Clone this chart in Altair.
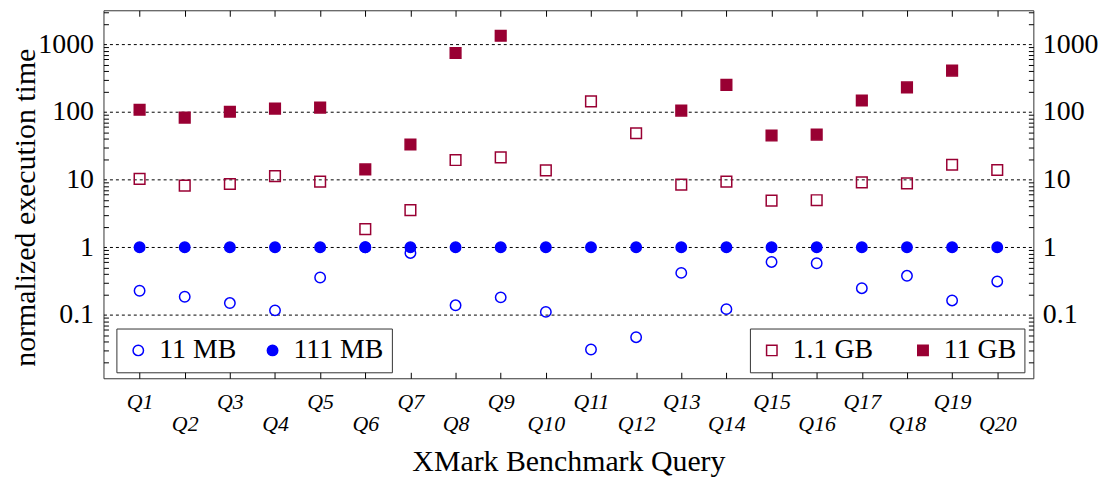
import altair as alt
import pandas as pd

# ---------------- data ----------------
query_nums = list(range(1, 21))
query_labels = ["Q1", "Q2", "Q3", "Q4", "Q5", "Q6", "Q7", "Q8", "Q9", "Q10",
                "Q11", "Q12", "Q13", "Q14", "Q15", "Q16", "Q17", "Q18", "Q19", "Q20"]

mb11 = [0.228, 0.186, 0.150, 0.117, 0.358, 1.0, 0.826, 0.139, 0.182, 0.111,
        0.0309, 0.0469, 0.419, 0.122, 0.608, 0.582, 0.249, 0.379, 0.164, 0.313]
mb111 = [1, 1, 1, 1, 1, 1, 1, 1, 1, 1, 1, 1, 1, 1, 1, 1, 1, 1, 1, 1]
gb1_1 = [10.3, 8.16, 8.63, 11.3, 9.35, 1.86, 3.54, 19.5, 21.3, 13.7,
         144, 48.6, 8.44, 9.35, 4.91, 4.97, 9.14, 8.83, 16.6, 13.9]
gb11 = [108, 82.5, 101, 112, 116, 14.2, 33.1, 746, 1340, None,
        None, None, 105, 252, 44.9, 46.4, 148, 231, 410, None]

mb_series = ["11 MB", "111 MB"]
gb_series = ["1.1 GB", "11 GB"]
y_major = [0.1, 1, 10, 100, 1000]
y_minor = [k * 10.0 ** e for e in range(-2, 4) for k in range(2, 10)]


def long(series_names, series_values):
    rows = []
    for name, vals in zip(series_names, series_values):
        for q, v in zip(query_nums, vals):
            if v is not None:
                rows.append({"q": q, "v": v, "series": name})
    return pd.DataFrame(rows)


df_mb = long(mb_series, [mb11, mb111])
df_gb = long(gb_series, [gb1_1, gb11])

# ---------------- style ----------------
FONT = "Liberation Serif"
BLUE = "#0000ff"
RED = "#990033"
X_DOMAIN = [0.2, 20.8]
Y_DOMAIN = [0.0116, 3190]

xs = alt.Scale(domain=X_DOMAIN, nice=False, zero=False)
ys = alt.Scale(type="log", domain=Y_DOMAIN, nice=False)

# layer: MB series, bottom labels + left labels + grid
x_bottom_labels = alt.Axis(
    orient="bottom", values=query_nums, labelExpr="'Q' + datum.value",
    labelFont=FONT, labelFontStyle="italic", labelFontSize=22, labelColor="black",
    labelPadding={"condition": {"test": "datum.value % 2 == 0", "value": 36}, "value": 13},
    labelOverlap=False, labelFlush=False, labelBound=False,
    ticks=False, domain=False, grid=False,
    title="XMark Benchmark Query", titleFont=FONT, titleFontSize=30,
    titleFontWeight="normal", titleColor="black",
    titleBaseline="alphabetic", titleY=93, titleX=467.5, titleAlign="center",
)
y_left_labels = alt.Axis(
    orient="left", values=y_major, format="~g",
    labelFont=FONT, labelFontSize=28, labelColor="black", labelPadding=10,
    ticks=False, domain=False,
    grid=True, gridColor="black", gridDash=[3, 3], gridWidth=1, gridOpacity=1,
    title="normalized execution time", titleFont=FONT, titleFontSize=30,
    titleFontWeight="normal", titleColor="black",
    titleAngle=270, titleBaseline="alphabetic", titleAlign="center",
    titleX=-69, titleY=198,
)

legend_common = dict(
    title=None, orient="none", direction="horizontal",
    labelFont=FONT, labelFontSize=28, labelColor="black",
    labelOffset=7, padding=8,
    strokeColor="#333", fillColor="white", cornerRadius=0,
    symbolStrokeWidth=1.5, symbolOpacity=1, symbolSize=110,
)

mb_layer = alt.Chart(df_mb).mark_point(
    filled=True, shape="circle", size=110, strokeWidth=1.5, opacity=1, fillOpacity=1
).encode(
    x=alt.X("q:Q", scale=xs, axis=x_bottom_labels),
    y=alt.Y("v:Q", scale=ys, axis=y_left_labels),
    fill=alt.Fill("series:N",
                  scale=alt.Scale(domain=mb_series, range=["transparent", BLUE]),
                  legend=alt.Legend(legendX=13, legendY=320, symbolType="circle",
                                    columnPadding=22,
                                    symbolStrokeColor=BLUE, **legend_common)),
    stroke=alt.value(BLUE),
    order=alt.Order("series:N"),
)

# layer: GB series, top ticks + right labels
x_top_ticks = alt.Axis(values=query_nums, orient="top", offset=-6, tickSize=6, zindex=1,
                       tickColor="black", labels=False, domain=False, grid=False, title=None)
y_right_labels = alt.Axis(values=y_major, format="~g", orient="right",
                          labelFont=FONT, labelFontSize=28, labelColor="black", labelPadding=9,
                          ticks=False, domain=False, grid=False, title=None)

gb_layer = alt.Chart(df_gb).mark_point(
    filled=True, shape="square", size=115, strokeWidth=1.5, opacity=1, fillOpacity=1
).encode(
    x=alt.X("q:Q", scale=xs, axis=x_top_ticks),
    y=alt.Y("v:Q", scale=ys, axis=y_right_labels),
    fill=alt.Fill("series:N",
                  scale=alt.Scale(domain=gb_series, range=["transparent", RED]),
                  legend=alt.Legend(legendX=650, legendY=320, symbolType="square",
                                    columnPadding=36,
                                    symbolStrokeColor=RED, **legend_common)),
    stroke=alt.value(RED),
    order=alt.Order("series:N"),
)

# layer: inward bottom ticks + left minor ticks
x_bottom_ticks = alt.Axis(values=query_nums, orient="bottom", offset=-6, tickSize=6, zindex=1,
                          tickColor="black", labels=False, domain=False, grid=False, title=None)
y_left_minor = alt.Axis(values=y_minor, orient="left", offset=-5, tickSize=5, zindex=1,
                        tickColor="black", labels=False, domain=False, grid=False, title=None)
tick_layer_a = alt.Chart(df_mb).mark_point(opacity=0).encode(
    x=alt.X("q:Q", scale=xs, axis=x_bottom_ticks),
    y=alt.Y("v:Q", scale=ys, axis=y_left_minor),
)

# layer: right minor ticks
y_right_minor = alt.Axis(values=y_minor, orient="right", offset=-5, tickSize=5, zindex=1,
                         tickColor="black", labels=False, domain=False, grid=False, title=None)
tick_layer_b = alt.Chart(df_mb).mark_point(opacity=0).encode(
    x=alt.X("q:Q", scale=xs, axis=None),
    y=alt.Y("v:Q", scale=ys, axis=y_right_minor),
)

chart = alt.layer(mb_layer, gb_layer, tick_layer_a, tick_layer_b).resolve_scale(
    fill="independent"
).resolve_axis(
    x="independent", y="independent"
).properties(
    width=935, height=370,
    background="white",
    autosize=alt.AutoSizeParams(type="none"),
    padding={"left": 96, "top": 1, "right": 66, "bottom": 100},
).configure_view(
    stroke="#333", strokeWidth=1
)

chart.save("out.html", embed_options={"renderer": "svg", "actions": False})
